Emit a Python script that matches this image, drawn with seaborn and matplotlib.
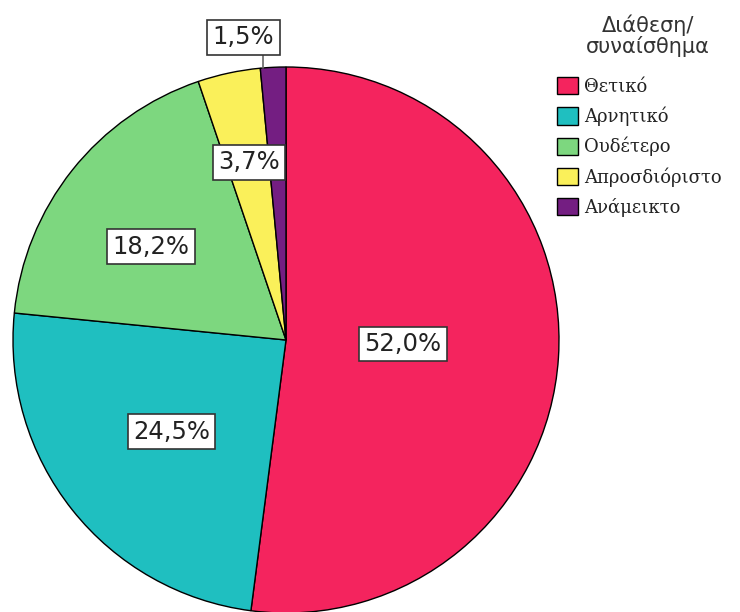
import numpy as np
import matplotlib
matplotlib.use("Agg")
import matplotlib.pyplot as plt
import seaborn as sns

# Διάθεση / συναίσθημα
categories = ["Θετικό", "Αρνητικό", "Ουδέτερο", "Απροσδιόριστο", "Ανάμεικτο"]
values = [52.0, 24.5, 18.2, 3.7, 1.5]
labels = ["52,0%", "24,5%", "18,2%", "3,7%", "1,5%"]
colors = ["#F4245E", "#1FBFC0", "#7DD77F", "#FAF05A", "#741E82"]

# label placement: radius and position along the slice (0 = start of the sweep)
lab_r = [0.429, 0.537, 0.601, 0.665, 1.12]
lab_f = [0.491, 0.498, 0.442, 0.526, -0.483]

sns.set_style("white")
plt.rcParams['font.family'] = ['DejaVu Sans']

fig = plt.figure(figsize=(7.4, 6.12), dpi=100)
ax = fig.add_axes([13 / 740, -1 / 612, 546 / 740, 546 / 612])

wedges, _ = ax.pie(values, colors=colors, startangle=90, counterclock=False,
                   radius=1.0, wedgeprops=dict(edgecolor="black", linewidth=1.0))
ax.set_xlim(-1, 1)
ax.set_ylim(-1, 1)
ax.set_aspect("equal")
ax.axis("off")

for w, lab, r, f in zip(wedges, labels, lab_r, lab_f):
    ang = np.deg2rad(w.theta2 - f * (w.theta2 - w.theta1))
    x, y = r * np.cos(ang), r * np.sin(ang)
    if r > 1:
        # outside label, short vertical leader down to the slice
        a0 = np.deg2rad(w.theta2 - 0.1 * (w.theta2 - w.theta1))
        px, py = np.cos(a0), np.sin(a0)
        ax.plot([px, px], [py, y], color="#666666", lw=1.2, clip_on=False, zorder=4)
    ax.text(x, y, lab, ha="center", va="center", fontsize=17.5, color="#222222",
            bbox=dict(boxstyle="square,pad=0.22", fc="white", ec="#333333", lw=1.2),
            clip_on=False, zorder=5)

fig.text(648 / 740, 1 - 36 / 612, "Διάθεση/\nσυναίσθημα", ha="center", va="center",
         fontsize=15, color="#333333", linespacing=1.0, multialignment="center")

leg = fig.legend(wedges, categories, loc="upper left",
                 bbox_to_anchor=(557 / 740, 1 - 77 / 612),
                 frameon=False, borderpad=0, borderaxespad=0,
                 handlelength=1.15, handleheight=1.1,
                 handletextpad=0.35, labelspacing=0.6,
                 prop={"family": "DejaVu Serif", "size": 13})
for t in leg.get_texts():
    t.set_color("#222222")

fig.savefig("out.png", dpi=100)
